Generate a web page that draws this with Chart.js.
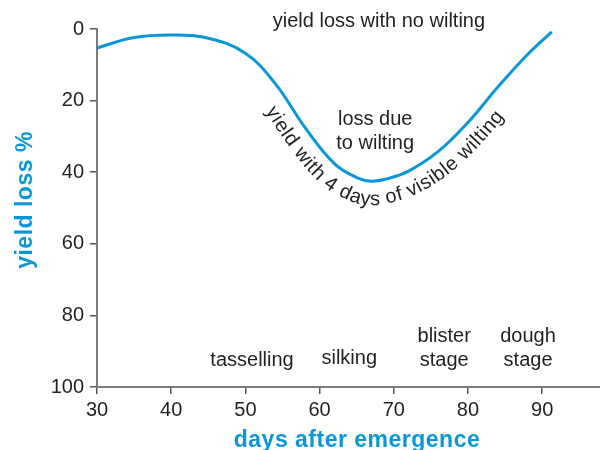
<!DOCTYPE html>
<html>
<head>
<meta charset="utf-8">
<script src="https://cdn.jsdelivr.net/npm/chart.js@4.4.1/dist/chart.umd.min.js"></script>
<style>
  html, body { margin: 0; padding: 0; background: #fff; }
  #wrap { width: 600px; height: 450px; }
</style>
</head>
<body>
<div id="wrap"><canvas id="wilt-chart" width="600" height="450"></canvas></div>
<script>
// --- Data ---
const days = [30, 35, 40, 45, 50, 54, 58, 62, 65, 67, 69, 72, 76, 80, 84, 88, 91.3];
const yieldLoss = [5.3, 2.4, 1.7, 2.6, 6.8, 15.2, 27.4, 37.6, 41.5, 42.5, 41.9, 39.7, 34.2, 26.1, 16.3, 7.2, 0.8];
const xTicks = [30, 40, 50, 60, 70, 80, 90];
const yTicks = [0, 20, 40, 60, 80, 100];

// Text placed in data coordinates (day, loss)
const labels = [
    { lines: ['yield loss with no wilting'], day: 68.0, loss: -2.0 },
    { lines: ['loss due', 'to wilting'], day: 67.5, loss: 25.4 },
    { lines: ['tasselling'], day: 50.9, loss: 92.5 },
    { lines: ['silking'], day: 64.0, loss: 92.0 },
    { lines: ['blister', 'stage'], day: 76.8, loss: 86.0 },
    { lines: ['dough', 'stage'], day: 88.1, loss: 86.0 }
];
const curveText = 'yield with 4 days of visible wilting';
const curveTextStartDay = 55.4;

const BLUE = '#0a97d9';
const INK = '#231f20';
const FONT = '"Liberation Sans", Arial, sans-serif';

/**
 * Flattens the drawn line (with its bezier control points) into a polyline.
 */
const samplePath = (pts) => {
    const out = [];
    for (let i = 0; i < pts.length - 1; i++) {
        const a = pts[i], b = pts[i + 1];
        const c1x = a.cp2x ?? a.x, c1y = a.cp2y ?? a.y;
        const c2x = b.cp1x ?? b.x, c2y = b.cp1y ?? b.y;
        for (let k = 0; k < 40; k++) {
            const t = k / 40, u = 1 - t;
            out.push({
                x: u*u*u*a.x + 3*u*u*t*c1x + 3*u*t*t*c2x + t*t*t*b.x,
                y: u*u*u*a.y + 3*u*u*t*c1y + 3*u*t*t*c2y + t*t*t*b.y
            });
        }
    }
    const last = pts[pts.length - 1];
    out.push({ x: last.x, y: last.y });
    return out;
};

const annotations = {
    id: 'annotations',
    afterDatasetsDraw(chart) {
        const { ctx, scales: { x, y } } = chart;
        ctx.save();
        ctx.fillStyle = INK;
        ctx.font = `20px ${FONT}`;
        ctx.textAlign = 'center';
        ctx.textBaseline = 'middle';
        labels.forEach(l => {
            const px = x.getPixelForValue(l.day);
            const py = y.getPixelForValue(l.loss);
            l.lines.forEach((line, i) => ctx.fillText(line, px, py + i * 23.5));
        });

        // Text running along the underside of the curve, spaced on its baseline
        const path = samplePath(chart.getDatasetMeta(0).data);
        const baselineGap = 24;
        const tracking = 0.6;
        const offset = [];
        for (let i = 0; i < path.length; i++) {
            const p = path[Math.max(0, i - 3)], n = path[Math.min(path.length - 1, i + 3)];
            const dx = n.x - p.x, dy = n.y - p.y;
            const len = Math.hypot(dx, dy) || 1;
            offset.push({ x: path[i].x - dy / len * baselineGap, y: path[i].y + dx / len * baselineGap });
        }
        const cum = [0];
        for (let i = 1; i < offset.length; i++) {
            cum.push(cum[i - 1] + Math.hypot(offset[i].x - offset[i - 1].x, offset[i].y - offset[i - 1].y));
        }
        const startX = x.getPixelForValue(curveTextStartDay);
        let s = cum[path.findIndex(p => p.x >= startX)];
        const at = (dist) => {
            let j = cum.findIndex(c => c >= dist);
            if (j <= 0) j = 1;
            const f = (dist - cum[j - 1]) / ((cum[j] - cum[j - 1]) || 1);
            const a = offset[j - 1], b = offset[j];
            const pa = offset[Math.max(0, j - 6)], pb = offset[Math.min(offset.length - 1, j + 5)];
            return { x: a.x + (b.x - a.x) * f, y: a.y + (b.y - a.y) * f, ang: Math.atan2(pb.y - pa.y, pb.x - pa.x) };
        };
        ctx.textBaseline = 'alphabetic';
        for (const ch of curveText) {
            const w = ctx.measureText(ch).width;
            const p = at(s + w / 2);
            ctx.save();
            ctx.translate(p.x, p.y);
            ctx.rotate(p.ang);
            ctx.fillText(ch, 0, 0);
            ctx.restore();
            s += w + tracking;
        }

        // Axis titles
        ctx.fillStyle = BLUE;
        ctx.font = `bold 23px ${FONT}`;
        ctx.letterSpacing = '0.5px';
        ctx.fillText('days after emergence', 357, 447);
        ctx.translate(32, 200);
        ctx.rotate(-Math.PI / 2);
        ctx.fillText('yield loss %', 0, 0);
        ctx.restore();
    }
};

const ctx = document.getElementById('wilt-chart').getContext('2d');
new Chart(ctx, {
    type: 'line',
    data: {
        datasets: [{
            data: days.map((d, i) => ({ x: d, y: yieldLoss[i] })),
            borderColor: BLUE,
            borderWidth: 3,
            pointRadius: 0,
            tension: 0.4,
            fill: false
        }]
    },
    options: {
        responsive: false,
        devicePixelRatio: 1,
        animation: false,
        layout: { padding: { top: 29, right: 0, left: 0, bottom: 0 } },
        plugins: { legend: { display: false }, tooltip: { enabled: false } },
        scales: {
            x: {
                type: 'linear',
                min: 30,
                max: 97.8,
                afterBuildTicks: (scale) => { scale.ticks = xTicks.map(v => ({ value: v })); },
                afterFit: (scale) => { scale.height = 63; },
                ticks: { color: INK, font: { family: FONT, size: 20 }, padding: 4, maxRotation: 0 },
                grid: { drawOnChartArea: false, tickLength: 7, color: '#555', lineWidth: 1.5 },
                border: { color: '#7a7a7a', width: 2 }
            },
            y: {
                type: 'linear',
                reverse: true,
                min: 0,
                max: 100,
                afterBuildTicks: (scale) => { scale.ticks = yTicks.map(v => ({ value: v })); },
                afterFit: (scale) => { scale.width = 97; },
                ticks: { color: INK, font: { family: FONT, size: 20 }, padding: 6 },
                grid: { drawOnChartArea: false, tickLength: 7, color: '#555', lineWidth: 1.5 },
                border: { color: '#7a7a7a', width: 2 }
            }
        }
    },
    plugins: [annotations]
});
</script>
</body>
</html>
